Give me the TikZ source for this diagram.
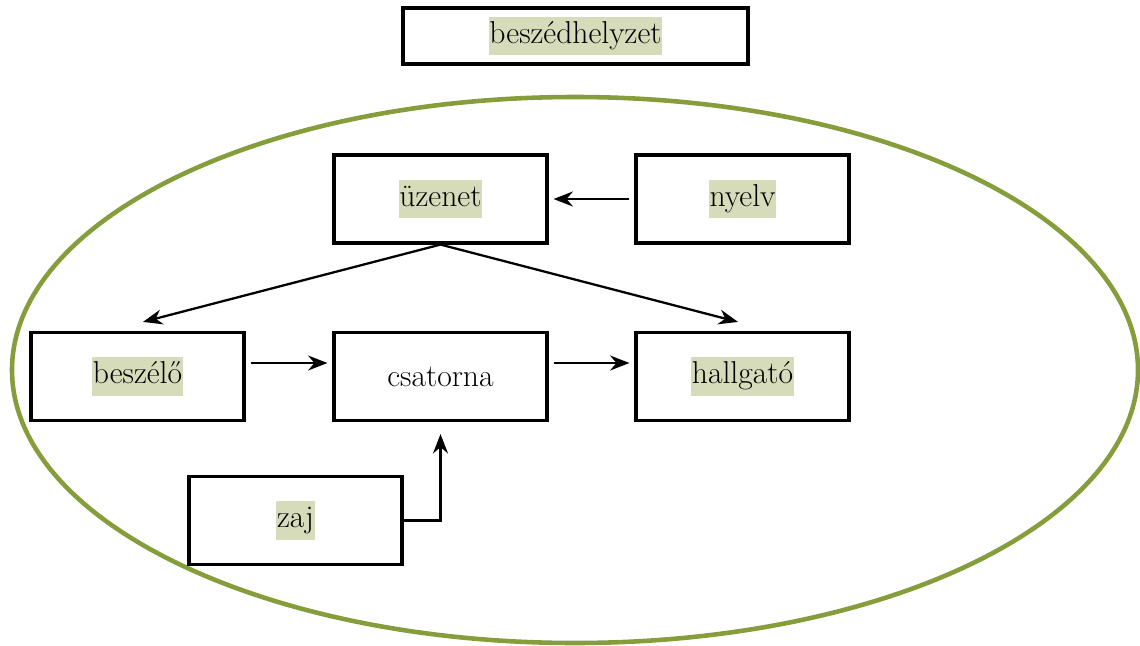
\documentclass[tikz,border=0pt]{standalone}
\usepackage{tikz}
\usetikzlibrary{arrows.meta}

\definecolor{olive}{HTML}{869D3B}
\definecolor{hlgreen}{HTML}{D6DBBA}
\newcommand{\hl}[1]{{\setlength{\fboxsep}{0.5pt}\colorbox{hlgreen}{\strut #1}}}

\begin{document}
\begin{tikzpicture}[x = 0.02 cm, y = -0.02 cm,
	 box/.style = {draw, line width = 1.8pt, minimum width = 4.26 cm, minimum height = 1.76 cm, inner sep = 0pt, font = \fontsize{18}{21}\selectfont},
	 arr/.style = {line width = 1.3pt, -{Stealth[length = 11pt, width = 8.5pt]}}]
	 \useasboundingbox (0, 0) rectangle (1140, 646);
	 
	 \draw[olive, line width = 2.6pt] (575, 370) ellipse (563 and 273);
	 
	 \node[box, minimum width = 6.9 cm, minimum height = 1.12 cm] (helyzet) at (575.5, 36) {\hl{beszédhelyzet}};
	 
	 \node[box] (uzenet) at (440.5, 199) {\hl{üzenet}};
	 \node[box] (nyelv) at (742.5, 199) {\hl{nyelv}};
	 \node[box] (beszelo) at (137.5, 376.5) {\hl{beszélő}};
	 \node[box] (csatorna) at (440.5, 376.5) {csatorna};
	 \node[box] (hallgato) at (742.5, 376.5) {\hl{hallgató}};
	 \node[box] (zaj) at (295.5, 520.5) {\hl{zaj}};
	 
	 \draw[arr] ([xshift = -0.1 cm]nyelv.west) -- ([xshift = 0.1 cm]uzenet.east);
	 
	 \draw[arr] (uzenet.south) -- ([xshift = 0.11 cm, yshift = 0.18 cm]beszelo.north);
	 \draw[arr] (uzenet.south) -- ([xshift = -0.09 cm, yshift = 0.18 cm]hallgato.north);
	 
	 \draw[arr] ([xshift = 0.1 cm, yshift = 0.27 cm]beszelo.east) -- ([xshift = -0.1 cm, yshift = 0.27 cm]csatorna.west);
	 \draw[arr] ([xshift = 0.1 cm, yshift = 0.27 cm]csatorna.east) -- ([xshift = -0.1 cm, yshift = 0.27 cm]hallgato.west);
	 
	 \draw[arr] (zaj.east) -| ([yshift = -0.24 cm]csatorna.south);
\end{tikzpicture}
\end{document}
